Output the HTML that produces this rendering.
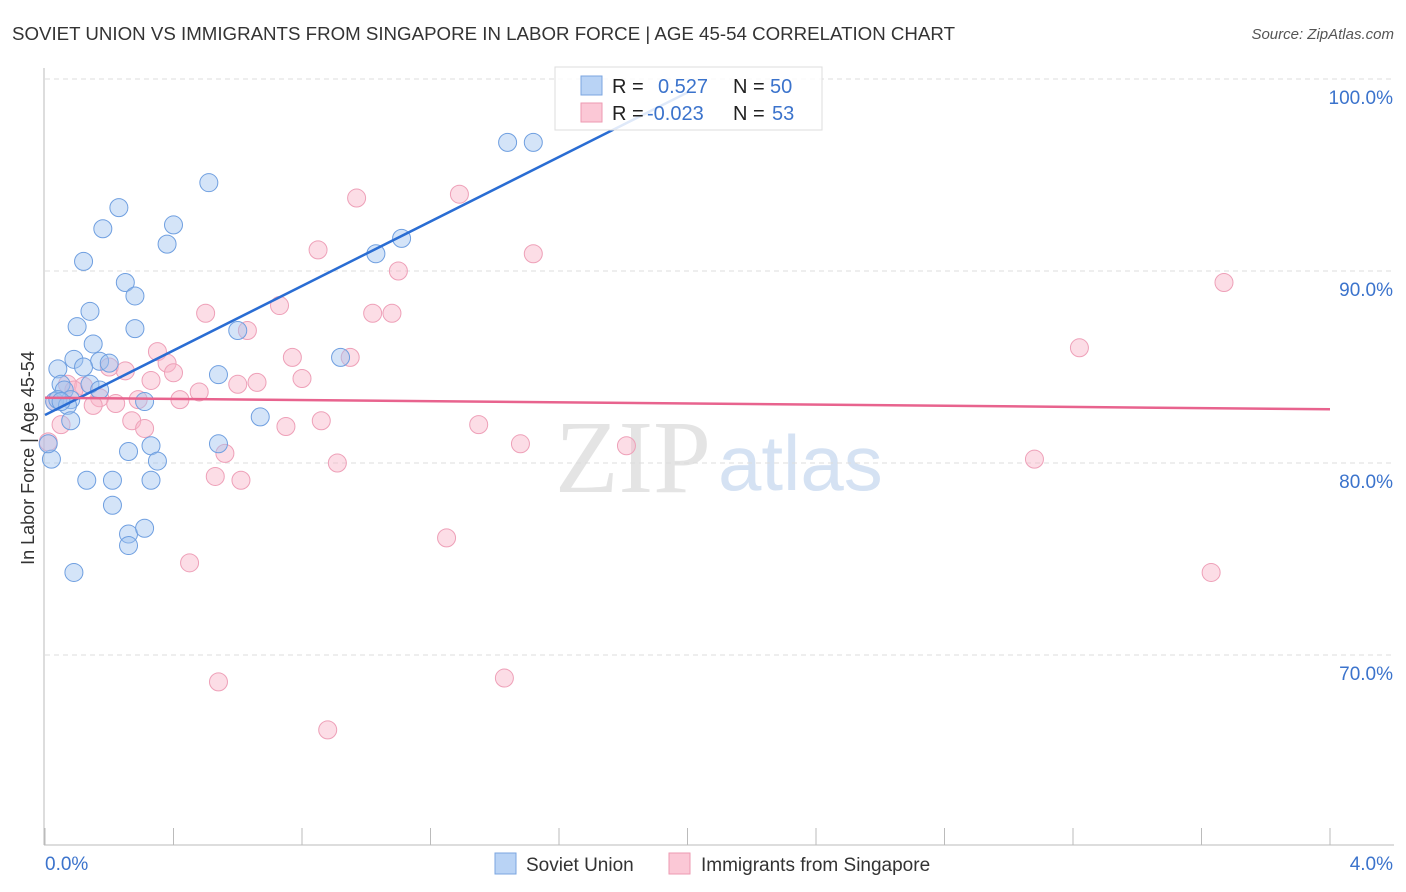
<!DOCTYPE html>
<html><head><meta charset="utf-8"><style>
body{margin:0;background:#fff;font-family:"Liberation Sans",sans-serif;}
svg{display:block}
</style></head><body>
<svg id="c" width="1406" height="892" xmlns="http://www.w3.org/2000/svg">
<text x="12" y="40" font-size="18" fill="#333" textLength="943" lengthAdjust="spacingAndGlyphs">SOVIET UNION VS IMMIGRANTS FROM SINGAPORE IN LABOR FORCE | AGE 45-54 CORRELATION CHART</text>
<text x="1394" y="39" font-size="15" fill="#555" font-style="italic" text-anchor="end">Source: ZipAtlas.com</text>
<text x="34" y="458" font-size="18" fill="#333" text-anchor="middle" transform="rotate(-90 34 458)">In Labor Force | Age 45-54</text>
<text x="555" y="492" font-size="104" fill="#e4e4e4" font-family="Liberation Serif, serif">ZIP</text>
<text x="718" y="490" font-size="78" fill="#d5e2f3">atlas</text>
<g id="grid"></g><g id="pts"></g><g id="lines"></g>
<g>
<rect x="555" y="67" width="267" height="63" fill="#fff" fill-opacity="0.85" stroke="#ddd"/>
<rect x="581" y="76" width="21" height="19" fill="#b9d3f5" stroke="#7ba6e0"/>
<rect x="581" y="103" width="21" height="19" fill="#fbc8d6" stroke="#ee9ab2"/>
<text x="612" y="93" font-size="20" fill="#222">R =  <tspan x="658" fill="#3b73cc">0.527</tspan><tspan x="733" fill="#222">N = </tspan><tspan x="770" fill="#3b73cc">50</tspan></text>
<text x="612" y="120" font-size="20" fill="#222">R = <tspan x="647" fill="#3b73cc">-0.023</tspan><tspan x="733" fill="#222">N = </tspan><tspan x="772" fill="#3b73cc">53</tspan></text>
</g>
<g>
<rect x="495" y="853" width="21" height="21" fill="#b9d3f5" stroke="#7ba6e0"/>
<text x="526" y="871" font-size="19" fill="#333">Soviet Union</text>
<rect x="669" y="853" width="21" height="21" fill="#fbc8d6" stroke="#ee9ab2"/>
<text x="701" y="871" font-size="19" fill="#333">Immigrants from Singapore</text>
</g>
</svg>
<script>
const yTicks=[100,90,80,70];
const yTickLabels=["100.0%","90.0%","80.0%","70.0%"];
const xTickLabels=["0.0%","4.0%"];
const sovietX=[1.44,1.52,0.51,0.23,0.40,0.18,0.38,1.11,1.03,0.12,0.25,0.28,0.14,0.10,0.28,0.60,0.15,0.09,0.17,0.20,0.92,0.04,0.12,0.54,0.05,0.14,0.06,0.17,0.08,0.67,0.03,0.31,0.04,0.07,0.08,0.33,0.54,0.26,0.35,0.02,0.13,0.21,0.33,0.21,0.26,0.31,0.26,0.09,0.01,0.05];
const sovietY=[96.7,96.7,94.6,93.3,92.4,92.2,91.4,91.7,90.9,90.5,89.4,88.7,87.9,87.1,87.0,86.9,86.2,85.4,85.3,85.2,85.5,84.9,85.0,84.6,84.1,84.1,83.8,83.8,83.3,82.4,83.2,83.2,83.3,83.0,82.2,80.9,81.0,80.6,80.1,80.2,79.1,79.1,79.1,77.8,76.3,76.6,75.7,74.3,81.0,83.2];
const singX=[1.29,0.97,0.85,1.52,1.10,3.67,0.73,0.50,1.02,1.08,0.63,3.22,0.35,0.77,0.95,0.38,0.20,0.25,0.40,0.80,0.33,0.66,0.60,0.07,0.12,0.48,0.42,0.17,0.29,0.15,0.22,0.03,0.86,0.27,1.35,0.75,0.31,1.48,1.81,0.01,0.56,3.08,0.91,0.53,0.61,1.25,0.45,3.63,0.54,1.43,0.88,0.05,0.09];
const singY=[94.0,93.8,91.1,90.9,90.0,89.4,88.2,87.8,87.8,87.8,86.9,86.0,85.8,85.5,85.5,85.2,85.0,84.8,84.7,84.4,84.3,84.2,84.1,84.1,84.0,83.7,83.3,83.4,83.3,83.0,83.1,83.2,82.2,82.2,82.0,81.9,81.8,81.0,80.9,81.1,80.5,80.2,80.0,79.3,79.1,76.1,74.8,74.3,68.6,68.8,66.1,82.0,83.8];
const sovietTrend=[82.5,99.3];
const sovietTrendX=[0,2.0];
const singTrend=[83.4,82.8];
const singTrendX=[0,4];
const X=v=>45+v*321.25, Y=v=>79+(100-v)*19.2;
const NS="http://www.w3.org/2000/svg";
function mk(t,a,p){const e=document.createElementNS(NS,t);for(const k in a)e.setAttribute(k,a[k]);p.appendChild(e);return e;}
const grid=document.getElementById('grid');
yTicks.forEach((t,i)=>{
 const l=mk('line',{x1:45,x2:1394,y1:Y(t),y2:Y(t),stroke:'#ddd','stroke-dasharray':'5,4'},grid);
 
 
 const tx=mk('text',{x:1393,y:Y(t)+25,'font-size':19,fill:'#3b73cc','text-anchor':'end'},grid);
 tx.textContent=yTickLabels[i];
 
 
});
const ax=mk('line',{x1:44,x2:44,y1:68,y2:845,stroke:'#bbb'},grid);


const bx=mk('line',{x1:44,x2:1394,y1:845,y2:845,stroke:'#bbb'},grid);


for(let i=0;i<=10;i++){const t=mk('line',{x1:X(i*0.4),x2:X(i*0.4),y1:828,y2:845,stroke:'#bbb'},grid);
 
 }
xTickLabels.forEach((s,i)=>{const t=mk('text',{x:i?1393:45,y:870,'font-size':19,fill:'#3b73cc','text-anchor':i?'end':'start'},grid);t.textContent=s;
 
 });
const pts=document.getElementById('pts');
singX.forEach((x,i)=>{const c=mk('circle',{cx:X(x),cy:Y(singY[i]),r:9,fill:'rgba(248,180,200,0.45)',stroke:'#eea0b8','stroke-width':1},pts);
 
 });
sovietX.forEach((x,i)=>{const c=mk('circle',{cx:X(x),cy:Y(sovietY[i]),r:9,fill:'rgba(160,195,240,0.45)',stroke:'#6f9fe0','stroke-width':1},pts);
 
 });
const lg=document.getElementById('lines');
const l1=mk('line',{x1:X(sovietTrendX[0]),y1:Y(sovietTrend[0]),x2:X(sovietTrendX[1]),y2:Y(sovietTrend[1]),stroke:'#2a6dd3','stroke-width':2.5},lg);


const l2=mk('line',{x1:X(singTrendX[0]),y1:Y(singTrend[0]),x2:X(singTrendX[1]),y2:Y(singTrend[1]),stroke:'#e8638e','stroke-width':2.5},lg);


</script>
</body></html>
